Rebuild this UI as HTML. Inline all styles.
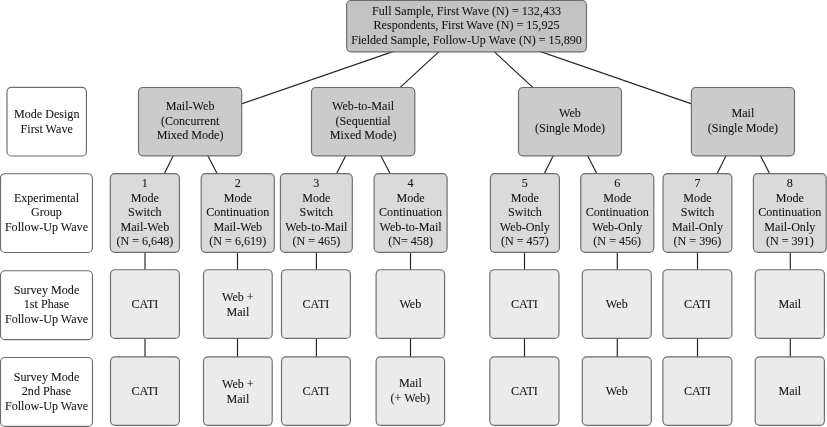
<!DOCTYPE html><html><head><meta charset="utf-8"><style>
html,body{margin:0;padding:0;background:#fff;width:827px;height:427px;overflow:hidden;position:relative}
.b{position:absolute;box-sizing:border-box;display:flex;align-items:center;justify-content:center;text-align:center;font-family:"Liberation Serif", serif;font-size:12.1px;line-height:14.6px;padding-bottom:1px;color:#111}
.b>div{backface-visibility:hidden;position:relative;-webkit-text-stroke:0.06px #111}
svg{position:absolute;left:0;top:0}
</style></head><body>
<svg width="827" height="427" viewBox="0 0 827 427">
<line x1="466.55" y1="26.15" x2="190.10" y2="121.65" stroke="#222" stroke-width="1.15"/>
<line x1="466.55" y1="26.15" x2="363.15" y2="121.65" stroke="#222" stroke-width="1.15"/>
<line x1="466.55" y1="26.15" x2="570.00" y2="121.65" stroke="#222" stroke-width="1.15"/>
<line x1="466.55" y1="26.15" x2="742.95" y2="121.65" stroke="#222" stroke-width="1.15"/>
<line x1="190.10" y1="121.65" x2="144.85" y2="212.95" stroke="#222" stroke-width="1.15"/>
<line x1="190.10" y1="121.65" x2="237.75" y2="212.95" stroke="#222" stroke-width="1.15"/>
<line x1="363.15" y1="121.65" x2="316.35" y2="212.95" stroke="#222" stroke-width="1.15"/>
<line x1="363.15" y1="121.65" x2="410.60" y2="212.95" stroke="#222" stroke-width="1.15"/>
<line x1="570.00" y1="121.65" x2="524.90" y2="212.95" stroke="#222" stroke-width="1.15"/>
<line x1="570.00" y1="121.65" x2="617.25" y2="212.95" stroke="#222" stroke-width="1.15"/>
<line x1="742.95" y1="121.65" x2="697.47" y2="212.95" stroke="#222" stroke-width="1.15"/>
<line x1="742.95" y1="121.65" x2="789.80" y2="212.95" stroke="#222" stroke-width="1.15"/>
<line x1="145.00" y1="212.00" x2="145.00" y2="391.00" stroke="#222" stroke-width="1.15"/>
<line x1="237.50" y1="212.00" x2="237.50" y2="391.00" stroke="#222" stroke-width="1.15"/>
<line x1="316.40" y1="212.00" x2="316.40" y2="391.00" stroke="#222" stroke-width="1.15"/>
<line x1="410.50" y1="212.00" x2="410.50" y2="391.00" stroke="#222" stroke-width="1.15"/>
<line x1="524.50" y1="212.00" x2="524.50" y2="391.00" stroke="#222" stroke-width="1.15"/>
<line x1="617.30" y1="212.00" x2="617.30" y2="391.00" stroke="#222" stroke-width="1.15"/>
<line x1="697.50" y1="212.00" x2="697.50" y2="391.00" stroke="#222" stroke-width="1.15"/>
<line x1="790.30" y1="212.00" x2="790.30" y2="391.00" stroke="#222" stroke-width="1.15"/>
<rect x="346.6" y="0.5" width="239.90" height="51.30" rx="4.5" ry="4.5" fill="#c3c3c3" stroke="#6c6c6c" stroke-width="1.15"/>
<rect x="7.0" y="87.3" width="79.40" height="68.70" rx="4.5" ry="4.5" fill="#ffffff" stroke="#6c6c6c" stroke-width="1.15"/>
<rect x="0.5" y="173.7" width="91.90" height="78.80" rx="4.5" ry="4.5" fill="#ffffff" stroke="#6c6c6c" stroke-width="1.15"/>
<rect x="0.5" y="270.75" width="92.00" height="68.90" rx="4.5" ry="4.5" fill="#ffffff" stroke="#6c6c6c" stroke-width="1.15"/>
<rect x="0.5" y="357.5" width="92.00" height="68.90" rx="4.5" ry="4.5" fill="#ffffff" stroke="#6c6c6c" stroke-width="1.15"/>
<rect x="138.5" y="87.45" width="103.20" height="68.40" rx="4.5" ry="4.5" fill="#cbcbcb" stroke="#6c6c6c" stroke-width="1.15"/>
<rect x="311.5" y="87.45" width="103.30" height="68.40" rx="4.5" ry="4.5" fill="#cbcbcb" stroke="#6c6c6c" stroke-width="1.15"/>
<rect x="518.5" y="87.45" width="103.00" height="68.40" rx="4.5" ry="4.5" fill="#cbcbcb" stroke="#6c6c6c" stroke-width="1.15"/>
<rect x="691.4" y="87.45" width="103.10" height="68.40" rx="4.5" ry="4.5" fill="#cbcbcb" stroke="#6c6c6c" stroke-width="1.15"/>
<rect x="110.3" y="173.6" width="69.10" height="78.70" rx="4.5" ry="4.5" fill="#dadada" stroke="#6c6c6c" stroke-width="1.15"/>
<rect x="201.2" y="173.6" width="73.10" height="78.70" rx="4.5" ry="4.5" fill="#dadada" stroke="#6c6c6c" stroke-width="1.15"/>
<rect x="280.4" y="173.6" width="71.90" height="78.70" rx="4.5" ry="4.5" fill="#dadada" stroke="#6c6c6c" stroke-width="1.15"/>
<rect x="374.1" y="173.6" width="73.00" height="78.70" rx="4.5" ry="4.5" fill="#dadada" stroke="#6c6c6c" stroke-width="1.15"/>
<rect x="490.4" y="173.6" width="69.00" height="78.70" rx="4.5" ry="4.5" fill="#dadada" stroke="#6c6c6c" stroke-width="1.15"/>
<rect x="580.7" y="173.6" width="73.10" height="78.70" rx="4.5" ry="4.5" fill="#dadada" stroke="#6c6c6c" stroke-width="1.15"/>
<rect x="663.05" y="173.6" width="68.85" height="78.70" rx="4.5" ry="4.5" fill="#dadada" stroke="#6c6c6c" stroke-width="1.15"/>
<rect x="753.4" y="173.6" width="72.80" height="78.70" rx="4.5" ry="4.5" fill="#dadada" stroke="#6c6c6c" stroke-width="1.15"/>
<rect x="110.5" y="269.7" width="68.90" height="68.70" rx="4.5" ry="4.5" fill="#ebebeb" stroke="#6c6c6c" stroke-width="1.15"/>
<rect x="110.5" y="356.9" width="68.90" height="68.40" rx="4.5" ry="4.5" fill="#ebebeb" stroke="#6c6c6c" stroke-width="1.15"/>
<rect x="203.5" y="269.7" width="68.70" height="68.70" rx="4.5" ry="4.5" fill="#ebebeb" stroke="#6c6c6c" stroke-width="1.15"/>
<rect x="203.5" y="356.9" width="68.70" height="68.40" rx="4.5" ry="4.5" fill="#ebebeb" stroke="#6c6c6c" stroke-width="1.15"/>
<rect x="281.5" y="269.7" width="68.90" height="68.70" rx="4.5" ry="4.5" fill="#ebebeb" stroke="#6c6c6c" stroke-width="1.15"/>
<rect x="281.5" y="356.9" width="68.90" height="68.40" rx="4.5" ry="4.5" fill="#ebebeb" stroke="#6c6c6c" stroke-width="1.15"/>
<rect x="376.1" y="269.7" width="68.50" height="68.70" rx="4.5" ry="4.5" fill="#ebebeb" stroke="#6c6c6c" stroke-width="1.15"/>
<rect x="376.1" y="356.9" width="68.50" height="68.40" rx="4.5" ry="4.5" fill="#ebebeb" stroke="#6c6c6c" stroke-width="1.15"/>
<rect x="489.8" y="269.7" width="69.20" height="68.70" rx="4.5" ry="4.5" fill="#ebebeb" stroke="#6c6c6c" stroke-width="1.15"/>
<rect x="489.8" y="356.9" width="69.20" height="68.40" rx="4.5" ry="4.5" fill="#ebebeb" stroke="#6c6c6c" stroke-width="1.15"/>
<rect x="582.3" y="269.7" width="69.00" height="68.70" rx="4.5" ry="4.5" fill="#ebebeb" stroke="#6c6c6c" stroke-width="1.15"/>
<rect x="582.3" y="356.9" width="69.00" height="68.40" rx="4.5" ry="4.5" fill="#ebebeb" stroke="#6c6c6c" stroke-width="1.15"/>
<rect x="662.9" y="269.7" width="69.00" height="68.70" rx="4.5" ry="4.5" fill="#ebebeb" stroke="#6c6c6c" stroke-width="1.15"/>
<rect x="662.9" y="356.9" width="69.00" height="68.40" rx="4.5" ry="4.5" fill="#ebebeb" stroke="#6c6c6c" stroke-width="1.15"/>
<rect x="755.2" y="269.7" width="69.20" height="68.70" rx="4.5" ry="4.5" fill="#ebebeb" stroke="#6c6c6c" stroke-width="1.15"/>
<rect x="755.2" y="356.9" width="69.20" height="68.40" rx="4.5" ry="4.5" fill="#ebebeb" stroke="#6c6c6c" stroke-width="1.15"/>
</svg>
<div class="b" style="left:316.55px;top:1px;width:300px;height:50px"><div>Full Sample, First Wave (N) = 132,433<br>Respondents, First Wave (N) = 15,925<br>Fielded Sample, Follow-Up Wave (N) = 15,890</div></div>
<div class="b" style="left:-103.30px;top:88px;width:300px;height:67px"><div style="top:1px">Mode Design<br>First Wave</div></div>
<div class="b" style="left:-103.55px;top:174px;width:300px;height:78px"><div>Experimental<br>Group<br>Follow-Up Wave</div></div>
<div class="b" style="left:-103.50px;top:271px;width:300px;height:68px"><div>Survey Mode<br>1st Phase<br>Follow-Up Wave</div></div>
<div class="b" style="left:-103.50px;top:358px;width:300px;height:68px"><div>Survey Mode<br>2nd Phase<br>Follow-Up Wave</div></div>
<div class="b" style="left:40.10px;top:88px;width:300px;height:67px"><div>Mail-Web<br>(Concurrent<br>Mixed Mode)</div></div>
<div class="b" style="left:213.15px;top:88px;width:300px;height:67px"><div>Web-to-Mail<br>(Sequential<br>Mixed Mode)</div></div>
<div class="b" style="left:420.00px;top:88px;width:300px;height:67px"><div>Web<br>(Single Mode)</div></div>
<div class="b" style="left:592.95px;top:88px;width:300px;height:67px"><div>Mail<br>(Single Mode)</div></div>
<div class="b" style="left:-5.15px;top:174px;width:300px;height:78px"><div>1<br>Mode<br>Switch<br>Mail-Web<br>(N = 6,648)</div></div>
<div class="b" style="left:87.75px;top:174px;width:300px;height:78px"><div>2<br>Mode<br>Continuation<br>Mail-Web<br>(N = 6,619)</div></div>
<div class="b" style="left:166.35px;top:174px;width:300px;height:78px"><div>3<br>Mode<br>Switch<br>Web-to-Mail<br>(N = 465)</div></div>
<div class="b" style="left:260.60px;top:174px;width:300px;height:78px"><div>4<br>Mode<br>Continuation<br>Web-to-Mail<br>(N= 458)</div></div>
<div class="b" style="left:374.90px;top:174px;width:300px;height:78px"><div>5<br>Mode<br>Switch<br>Web-Only<br>(N = 457)</div></div>
<div class="b" style="left:467.25px;top:174px;width:300px;height:78px"><div>6<br>Mode<br>Continuation<br>Web-Only<br>(N = 456)</div></div>
<div class="b" style="left:547.47px;top:174px;width:300px;height:78px"><div>7<br>Mode<br>Switch<br>Mail-Only<br>(N = 396)</div></div>
<div class="b" style="left:639.80px;top:174px;width:300px;height:78px"><div>8<br>Mode<br>Continuation<br>Mail-Only<br>(N = 391)</div></div>
<div class="b" style="left:-5.05px;top:270px;width:300px;height:68px"><div style="top:1px">CATI</div></div>
<div class="b" style="left:-5.05px;top:357px;width:300px;height:68px"><div style="top:1px">CATI</div></div>
<div class="b" style="left:87.85px;top:270px;width:300px;height:68px"><div style="top:1px">Web +<br>Mail</div></div>
<div class="b" style="left:87.85px;top:357px;width:300px;height:68px"><div style="top:1px">Web +<br>Mail</div></div>
<div class="b" style="left:165.95px;top:270px;width:300px;height:68px"><div style="top:1px">CATI</div></div>
<div class="b" style="left:165.95px;top:357px;width:300px;height:68px"><div style="top:1px">CATI</div></div>
<div class="b" style="left:260.35px;top:270px;width:300px;height:68px"><div style="top:1px">Web</div></div>
<div class="b" style="left:260.35px;top:357px;width:300px;height:68px"><div>Mail<br>(+ Web)</div></div>
<div class="b" style="left:374.40px;top:270px;width:300px;height:68px"><div style="top:1px">CATI</div></div>
<div class="b" style="left:374.40px;top:357px;width:300px;height:68px"><div style="top:1px">CATI</div></div>
<div class="b" style="left:466.80px;top:270px;width:300px;height:68px"><div style="top:1px">Web</div></div>
<div class="b" style="left:466.80px;top:357px;width:300px;height:68px"><div style="top:1px">Web</div></div>
<div class="b" style="left:547.40px;top:270px;width:300px;height:68px"><div style="top:1px">CATI</div></div>
<div class="b" style="left:547.40px;top:357px;width:300px;height:68px"><div style="top:1px">CATI</div></div>
<div class="b" style="left:639.80px;top:270px;width:300px;height:68px"><div style="top:1px">Mail</div></div>
<div class="b" style="left:639.80px;top:357px;width:300px;height:68px"><div style="top:1px">Mail</div></div>
</body></html>
